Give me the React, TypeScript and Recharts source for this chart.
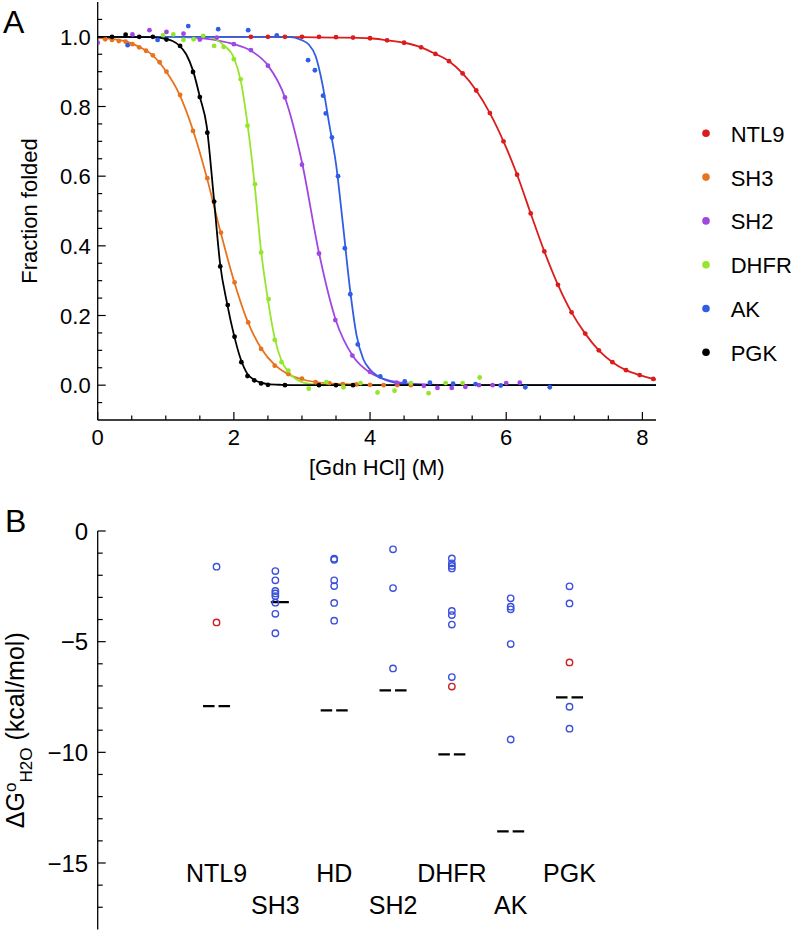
import React from "react";
import { ComposedChart, ScatterChart, Line, Scatter, XAxis, YAxis } from "recharts";

const FONT = '"Liberation Sans", Arial, Helvetica, sans-serif';

// ---------- panel A: fraction folded vs [Gdn HCl] ----------
const ntl9Points = [
  [2.25, 1.0], [2.5, 1.0], [2.75, 1.0], [3.0, 1.0], [3.25, 1.0], [3.5, 0.999], [3.75, 0.998], [4.0, 0.996],
  [4.25, 0.99], [4.5, 0.983], [4.75, 0.97], [4.96, 0.951], [5.16, 0.93], [5.36, 0.895], [5.56, 0.846],
  [5.76, 0.781], [5.96, 0.7], [6.16, 0.604], [6.36, 0.493], [6.56, 0.384], [6.76, 0.288], [6.96, 0.209],
  [7.16, 0.148], [7.36, 0.1], [7.56, 0.066], [7.76, 0.043], [7.96, 0.029], [8.16, 0.018],
];
const ntl9Fit = [
  [0, 1.0], [2.0, 1.0], [3.0, 0.999], [3.5, 0.998], [4.0, 0.996], [4.25, 0.99], [4.5, 0.983], [4.75, 0.97],
  [4.96, 0.951], [5.16, 0.93], [5.36, 0.895], [5.56, 0.846], [5.76, 0.781], [5.96, 0.7], [6.16, 0.604],
  [6.36, 0.493], [6.56, 0.384], [6.76, 0.288], [6.96, 0.209], [7.16, 0.148], [7.36, 0.1], [7.56, 0.066],
  [7.76, 0.043], [7.96, 0.029], [8.16, 0.018], [8.2, 0.016],
];

const sh3Points = [
  [0.11, 0.993], [0.21, 0.991], [0.31, 0.988], [0.41, 0.986], [0.51, 0.979], [0.61, 0.97], [0.71, 0.96],
  [0.81, 0.947], [0.91, 0.927], [1.01, 0.9], [1.21, 0.833], [1.4, 0.73], [1.61, 0.594], [1.81, 0.438],
  [2.01, 0.295], [2.21, 0.18], [2.4, 0.104], [2.6, 0.056], [2.8, 0.032], [3.0, 0.019], [3.2, 0.009],
  [3.4, 0.006], [3.6, 0.003], [3.8, 0.002], [4.0, 0.001], [4.2, 0.0], [4.4, 0.0], [4.6, 0.0],
];
const sh3Fit = [
  [0, 0.997], [0.4, 0.988], [0.6, 0.972], [0.8, 0.948], [1.0, 0.902], [1.2, 0.835], [1.4, 0.732],
  [1.6, 0.598], [1.8, 0.443], [2.0, 0.3], [2.2, 0.184], [2.4, 0.106], [2.6, 0.058], [2.8, 0.031],
  [3.0, 0.017], [3.4, 0.005], [4.0, 0.001], [4.6, 0.0], [8.2, 0.0],
];

const sh2Points = [
  [0.0, 0.983], [0.51, 1.007], [0.76, 1.019], [1.01, 1.014], [1.26, 1.009], [1.5, 0.992], [1.75, 0.998],
  [2.0, 0.979], [2.25, 0.962], [2.5, 0.917], [2.75, 0.826], [3.0, 0.633], [3.25, 0.378], [3.49, 0.187],
  [3.74, 0.085], [4.0, 0.038], [4.39, 0.007], [4.79, -0.002], [4.99, -0.008], [5.2, -0.008], [5.4, -0.005],
  [5.6, 0.0], [5.8, 0.0], [6.0, 0.006], [6.2, 0.007],
];
const sh2Fit = [
  [0, 1.0], [1.25, 0.999], [1.5, 0.996], [1.75, 0.99], [2.0, 0.979], [2.25, 0.96], [2.5, 0.918],
  [2.75, 0.826], [3.0, 0.64], [3.25, 0.38], [3.5, 0.185], [3.75, 0.083], [4.0, 0.036], [4.25, 0.015],
  [4.5, 0.006], [5.0, 0.001], [5.5, 0.0], [8.2, 0.0],
];

const dhfrPoints = [
  [0.96, 1.005], [1.11, 1.007], [1.26, 0.991], [1.41, 0.993], [1.55, 1.003], [1.71, 0.974], [1.85, 0.971],
  [2.0, 0.936], [2.1, 0.878], [2.2, 0.745], [2.31, 0.577], [2.4, 0.381], [2.51, 0.247], [2.6, 0.13],
  [2.7, 0.066], [2.8, 0.042], [3.1, -0.01], [3.36, 0.009], [3.61, -0.006], [3.86, 0.006], [4.11, -0.021],
  [4.36, -0.016], [4.6, 0.006], [4.86, -0.023], [5.11, 0.006], [5.36, 0.006], [5.61, 0.022],
];
const dhfrFit = [
  [0, 1.0], [1.6, 1.0], [1.7, 0.996], [1.85, 0.976], [2.0, 0.94], [2.1, 0.875], [2.2, 0.75], [2.3, 0.585],
  [2.4, 0.385], [2.5, 0.245], [2.6, 0.135], [2.7, 0.07], [2.8, 0.038], [2.9, 0.019], [3.0, 0.009],
  [3.2, 0.002], [3.5, 0.0], [8.2, 0.0],
];

const akPoints = [
  [0.44, 0.976], [0.88, 0.991], [1.33, 1.031], [1.77, 1.022], [2.21, 1.019], [2.63, 1.004], [3.09, 0.933],
  [3.19, 0.904], [3.31, 0.831], [3.35, 0.78], [3.44, 0.711], [3.53, 0.6], [3.63, 0.393], [3.71, 0.261],
  [3.82, 0.117], [4.15, 0.025], [4.51, 0.011], [4.88, 0.007], [5.22, 0.004], [5.55, 0.003], [5.92, -0.001],
  [6.28, -0.006], [6.64, -0.006],
];
const akFit = [
  [0, 1.0], [2.8, 1.0], [3.0, 0.99], [3.1, 0.978], [3.2, 0.945], [3.3, 0.865], [3.4, 0.75], [3.5, 0.635],
  [3.6, 0.465], [3.7, 0.285], [3.8, 0.145], [3.9, 0.075], [4.0, 0.045], [4.1, 0.028], [4.2, 0.017],
  [4.4, 0.006], [4.6, 0.002], [5.0, 0.0], [8.2, 0.0],
];

const pgkPoints = [
  [0.21, 1.0], [0.41, 1.006], [0.61, 1.0], [0.81, 1.0], [1.01, 0.992], [1.21, 0.974], [1.4, 0.899],
  [1.5, 0.827], [1.61, 0.725], [1.71, 0.527], [1.8, 0.341], [1.91, 0.23], [2.01, 0.139], [2.11, 0.066],
  [2.2, 0.026], [2.3, 0.014], [2.4, 0.005], [2.5, 0.001], [2.75, 0.0], [3.25, 0.0], [3.5, 0.0], [3.75, 0.0],
];
const pgkFit = [
  [0, 1.0], [0.8, 0.999], [1.0, 0.994], [1.1, 0.988], [1.2, 0.975], [1.3, 0.95], [1.4, 0.903], [1.5, 0.828],
  [1.6, 0.745], [1.7, 0.55], [1.8, 0.345], [1.9, 0.235], [2.0, 0.145], [2.1, 0.075], [2.2, 0.032],
  [2.3, 0.015], [2.4, 0.007], [2.5, 0.003], [2.7, 0.001], [3.0, 0.0], [8.2, 0.0],
];

const xTicksA = [0, 0.5, 1, 1.5, 2, 2.5, 3, 3.5, 4, 4.5, 5, 5.5, 6, 6.5, 7, 7.5, 8];
const yTicksA = [
  -0.05, 0, 0.05, 0.1, 0.15, 0.2, 0.25, 0.3, 0.35, 0.4, 0.45, 0.5, 0.55, 0.6, 0.65, 0.7, 0.75, 0.8, 0.85,
  0.9, 0.95, 1.0, 1.05,
];

// ---------- panel B: ΔG per protein ----------
const categories = ["NTL9", "SH3", "HD", "SH2", "DHFR", "AK", "PGK"];
const blueValues = [
  [-1.61],
  [-1.81, -2.23, -2.71, -2.82, -2.94, -3.24, -3.74, -4.62],
  [-1.25, -1.3, -2.23, -2.49, -3.25, -4.05],
  [-0.83, -2.58, -6.21],
  [-1.24, -1.46, -1.58, -1.69, -3.61, -3.8, -4.23, -6.6],
  [-3.04, -3.42, -3.54, -5.11, -9.42],
  [-2.5, -3.27, -7.94, -8.93],
];
const redValues = [[-4.13], [], [], [], [-7.03], [], [-5.94]];
const dashedValues = [-7.91, null, -8.1, -7.2, -10.09, -13.57, -7.52];
const solidValues = [null, -3.21, null, null, null, null, null];
const yTicksB = [0, -1, -2, -3, -4, -5, -6, -7, -8, -9, -10, -11, -12, -13, -14, -15, -16, -17];
const xTicksB = [1, 2, 3, 4, 5, 6, 7];

const toXY = (pts: number[][]) => pts.map(([x, y]) => ({ x, y }));

const seriesA = [
  { name: "NTL9", color: "#dc1c1c", points: ntl9Points, fit: ntl9Fit },
  { name: "SH3", color: "#e8731f", points: sh3Points, fit: sh3Fit },
  { name: "SH2", color: "#a046e2", points: sh2Points, fit: sh2Fit },
  { name: "DHFR", color: "#95e62a", points: dhfrPoints, fit: dhfrFit },
  { name: "AK", color: "#2f5de6", points: akPoints, fit: akFit },
  { name: "PGK", color: "#000000", points: pgkPoints, fit: pgkFit },
];

const blueTable = categories.flatMap((c, i) => blueValues[i].map((v) => ({ x: i + 1, y: v, name: c })));
const redTable = categories.flatMap((c, i) => redValues[i].map((v) => ({ x: i + 1, y: v, name: c })));
const dashedTable = categories
  .map((c, i) => ({ x: i + 1, y: dashedValues[i], name: c }))
  .filter((d) => d.y !== null);
const solidTable = categories
  .map((c, i) => ({ x: i + 1, y: solidValues[i], name: c }))
  .filter((d) => d.y !== null);

const near = (v: number, step: number) => Math.abs(v / step - Math.round(v / step)) < 1e-6;

function BottomTickA(props: any) {
  const { x, y, payload } = props;
  const major = near(payload.value, 2);
  return (
    <g>
      <line x1={x} x2={x} y1={y} y2={y - (major ? 8 : 4.5)} stroke="#000" strokeWidth={1.2} />
      {major && (
        <text x={x} y={y + 25} textAnchor="middle" fontSize={22} fill="#000">
          {payload.value}
        </text>
      )}
    </g>
  );
}

function TopTickA(props: any) {
  const { x, y, payload } = props;
  const major = near(payload.value, 2);
  return <line x1={x} x2={x} y1={y} y2={y + (major ? 8 : 4.5)} stroke="#000" strokeWidth={1.2} />;
}

function LeftTickA(props: any) {
  const { x, y, payload } = props;
  const major = near(payload.value, 0.2);
  return (
    <g>
      <line x1={x} x2={x + (major ? 8 : 4.5)} y1={y} y2={y} stroke="#000" strokeWidth={1.2} />
      {major && (
        <text x={x - 7} y={y + 8} textAnchor="end" fontSize={22} fill="#000">
          {payload.value.toFixed(1)}
        </text>
      )}
    </g>
  );
}

function RightTickA(props: any) {
  const { x, y, payload } = props;
  const major = near(payload.value, 0.2);
  return <line x1={x} x2={x - (major ? 8 : 4.5)} y1={y} y2={y} stroke="#000" strokeWidth={1.2} />;
}

function LeftTickB(props: any) {
  const { x, y, payload } = props;
  const v = payload.value;
  const major = near(v, 5);
  return (
    <g>
      <line x1={x} x2={x + (major ? 8 : 5)} y1={y} y2={y} stroke="#000" strokeWidth={1.2} />
      {major && (
        <text x={x - 9.5} y={y + 8.6} textAnchor="end" fontSize={24} fill="#000">
          {v === 0 ? "0" : "\u2212" + Math.abs(v)}
        </text>
      )}
    </g>
  );
}

function CategoryTick(props: any) {
  const { x, y, payload } = props;
  const i = Math.round(payload.value) - 1;
  return (
    <text x={x} y={y + (i % 2 === 0 ? -47.7 : -15)} textAnchor="middle" fontSize={25} fill="#000">
      {categories[i]}
    </text>
  );
}

const dot = (color: string) => (p: any) => <circle cx={p.cx} cy={p.cy} r={2.4} fill={color} />;
const ring = (color: string) => (p: any) => (
  <circle cx={p.cx} cy={p.cy} r={3.2} fill="none" stroke={color} strokeWidth={1.4} />
);
const dashMark = (p: any) => (
  <g stroke="#000" strokeWidth={2.2}>
    <line x1={p.cx - 13.5} x2={p.cx - 2} y1={p.cy} y2={p.cy} />
    <line x1={p.cx + 2} x2={p.cx + 13.5} y1={p.cy} y2={p.cy} />
  </g>
);
const solidMark = (p: any) => (
  <line x1={p.cx - 4.5} x2={p.cx + 13.5} y1={p.cy} y2={p.cy} stroke="#000" strokeWidth={2.2} />
);

function PanelA() {
  return (
    <ComposedChart width={793} height={500} margin={{ top: 2, right: 137, bottom: 0, left: 0 }}>
      <XAxis
        dataKey="x"
        type="number"
        domain={[0, 8.2]}
        allowDataOverflow
        ticks={xTicksA}
        interval={0}
        height={80}
        tickSize={0}
        tickMargin={0}
        tickLine={false}
        tick={BottomTickA}
        axisLine={{ stroke: "#000", strokeWidth: 1.3 }}
        label={{ value: "[Gdn HCl] (M)", position: "insideBottom", offset: 25, fontSize: 22, fill: "#000" }}
      />
      <XAxis
        xAxisId="top"
        orientation="top"
        dataKey="x"
        type="number"
        domain={[0, 8.2]}
        allowDataOverflow
        ticks={xTicksA}
        interval={0}
        height={0}
        tickSize={0}
        tickMargin={0}
        tickLine={false}
        tick={TopTickA}
        axisLine={{ stroke: "#000", strokeWidth: 1.3 }}
      />
      <YAxis
        dataKey="y"
        type="number"
        domain={[-0.1, 1.1]}
        allowDataOverflow
        ticks={yTicksA}
        interval={0}
        width={97.7}
        tickSize={0}
        tickMargin={0}
        tickLine={false}
        tick={LeftTickA}
        axisLine={{ stroke: "#000", strokeWidth: 1.3 }}
        label={{
          content: (p: any) => {
            const vb = p.viewBox;
            const cx = vb.x + 29;
            const cy = vb.y + vb.height / 2;
            return (
              <text
                x={cx}
                y={cy}
                transform={`rotate(-90 ${cx} ${cy})`}
                textAnchor="middle"
                dominantBaseline="central"
                fontSize={22}
                fill="#000"
              >
                Fraction folded
              </text>
            );
          },
        }}
      />
      <YAxis
        yAxisId="right"
        orientation="right"
        dataKey="y"
        type="number"
        domain={[-0.1, 1.1]}
        allowDataOverflow
        ticks={yTicksA}
        interval={0}
        width={0}
        tickSize={0}
        tickMargin={0}
        tickLine={false}
        tick={RightTickA}
        axisLine={{ stroke: "#000", strokeWidth: 1.3 }}
      />
      {seriesA.map((s) => (
        <Line
          key={s.name + "-fit"}
          data={toXY(s.fit)}
          dataKey="y"
          type="monotone"
          stroke={s.color}
          strokeWidth={1.8}
          dot={false}
          activeDot={false}
          isAnimationActive={false}
        />
      ))}
      {seriesA.map((s) => (
        <Scatter
          key={s.name + "-pts"}
          name={s.name}
          data={toXY(s.points)}
          dataKey="y"
          fill={s.color}
          shape={dot(s.color)}
          isAnimationActive={false}
        />
      ))}
    </ComposedChart>
  );
}

function PanelB() {
  return (
    <ScatterChart width={793} height={490} margin={{ top: 31, right: 47, bottom: 0.6, left: 0 }}>
      <XAxis
        dataKey="x"
        type="number"
        domain={[-1.02, 10]}
        allowDataOverflow
        ticks={xTicksB}
        interval={0}
        height={60}
        tickSize={0}
        tickMargin={0}
        tickLine={false}
        axisLine={false}
        tick={CategoryTick}
      />
      <YAxis
        dataKey="y"
        type="number"
        domain={[-18, 0]}
        allowDataOverflow
        ticks={yTicksB}
        interval={0}
        width={97.7}
        tickSize={0}
        tickMargin={0}
        tickLine={false}
        tick={LeftTickB}
        axisLine={{ stroke: "#000", strokeWidth: 1.3 }}
        label={{
          content: (p: any) => {
            const vb = p.viewBox;
            const cx = vb.x + 24;
            const cy = vb.y + vb.height / 2;
            return (
              <text x={cx} y={cy} transform={`rotate(-90 ${cx} ${cy})`} textAnchor="middle" fontSize={25} fill="#000">
                <tspan>ΔG</tspan>
                <tspan fontSize={17} dy={-8}>o</tspan>
                <tspan fontSize={17} dy={16}>H2O</tspan>
                <tspan dy={-8}> (kcal/mol)</tspan>
              </text>
            );
          },
        }}
      />
      <Scatter data={dashedTable} dataKey="y" shape={dashMark} isAnimationActive={false} />
      <Scatter data={solidTable} dataKey="y" shape={solidMark} isAnimationActive={false} />
      <Scatter data={blueTable} dataKey="y" shape={ring("#3b50dc")} isAnimationActive={false} />
      <Scatter data={redTable} dataKey="y" shape={ring("#cc1f1f")} isAnimationActive={false} />
    </ScatterChart>
  );
}

function LegendA() {
  return (
    <svg width={103} height={270} style={{ position: "absolute", left: 690, top: 110 }}>
      {seriesA.map((s, i) => (
        <g key={s.name}>
          <circle cx={16} cy={23.3 + 43.8 * i} r={3.8} fill={s.color} />
          <text x={40.7} y={31.7 + 43.8 * i} fontSize={22} fill="#000">
            {s.name}
          </text>
        </g>
      ))}
    </svg>
  );
}

export default function App() {
  return (
    <div
      style={{
        position: "absolute",
        left: 0,
        top: 0,
        width: 793,
        height: 930,
        background: "#fff",
        fontFamily: FONT,
        overflow: "hidden",
      }}
    >
      <div style={{ position: "absolute", left: 3, top: 6, fontSize: 32, lineHeight: 1 }}>A</div>
      <div style={{ position: "absolute", left: 5, top: 505, fontSize: 32, lineHeight: 1 }}>B</div>
      <div style={{ position: "absolute", left: 0, top: 0 }}>
        <PanelA />
      </div>
      <LegendA />
      <div style={{ position: "absolute", left: 0, top: 500 }}>
        <PanelB />
      </div>
    </div>
  );
}
